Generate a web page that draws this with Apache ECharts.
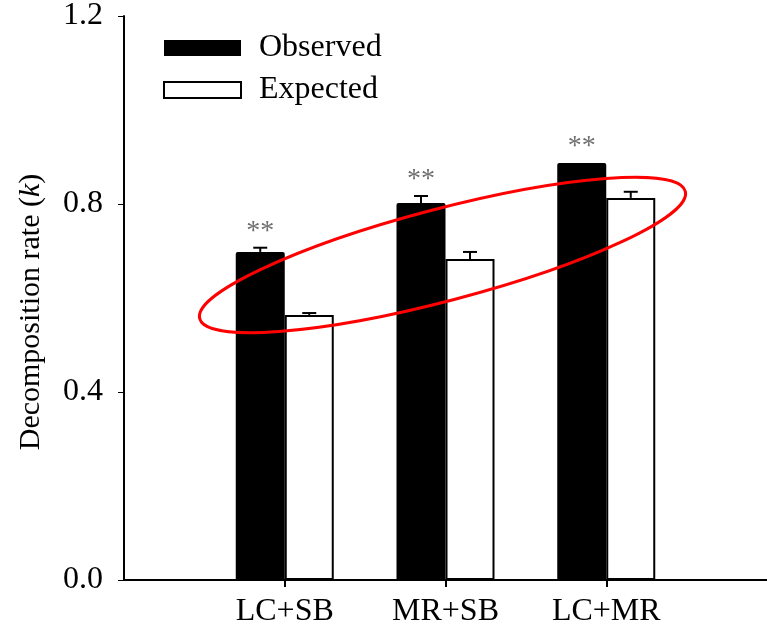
<!DOCTYPE html>
<html>
<head>
<meta charset="utf-8">
<script src="https://cdn.jsdelivr.net/npm/echarts@6/dist/echarts.min.js"></script>
<style>
html,body{margin:0;padding:0;background:#fff;}
#chart{width:767px;height:637px;}
</style>
</head>
<body>
<div id="chart"></div>
<script>
const categories = ['LC+SB', 'MR+SB', 'LC+MR'];
const categoryPositions = [1, 2, 3];
const observed = [0.698, 0.802, 0.887];
const observedErr = [0.009, 0.015, 0.0];
const expected = [0.564, 0.683, 0.813];
const expectedErr = [0.004, 0.015, 0.013];
const significance = ['**', '**', '**'];
const yTicks = [0, 0.4, 0.8, 1.2];

const FONT = '"Liberation Serif", "Times New Roman", serif';
const BAR_W = 49;

const chart = echarts.init(document.getElementById('chart'));

function errSeries(name, vals, errs, shift, marks) {
  return {
    type: 'custom',
    name: name,
    z: 5,
    silent: true,
    data: categoryPositions.map((p, i) => [p, vals[i], errs[i], i]),
    renderItem: function (params, api) {
      const x = api.value(0), v = api.value(1), e = api.value(2), i = api.value(3);
      const base = api.coord([x, v]);
      const top = api.coord([x, v + e]);
      const cx = base[0] + shift;
      const children = [];
      if (e > 0) {
        children.push({type: 'line', shape: {x1: cx, y1: base[1], x2: cx, y2: top[1]}, style: {stroke: '#000', lineWidth: 2}});
        children.push({type: 'line', shape: {x1: cx - 7, y1: top[1], x2: cx + 7, y2: top[1]}, style: {stroke: '#000', lineWidth: 2}});
      }
      if (marks) {
        children.push({type: 'text', x: cx, y: top[1] - 16, style: {text: marks[i], fill: '#6e6e6e', font: '28px ' + FONT, align: 'center', verticalAlign: 'middle'}});
      }
      return {type: 'group', children: children};
    }
  };
}

chart.setOption({
  animation: false,
  backgroundColor: '#fff',
  grid: {left: 124, top: 16, width: 648, height: 564, containLabel: false},
  legend: {
    orient: 'vertical',
    left: 163, top: 32, padding: 0,
    itemWidth: 77, itemHeight: 16,
    itemGap: 10,
    icon: 'rect',
    textStyle: {fontFamily: FONT, fontSize: 32, lineHeight: 32, color: '#000', padding: [0, 0, 0, 13]},
    data: ['Observed', 'Expected']
  },
  xAxis: {
    type: 'value', min: 0, max: 4,
    splitLine: {show: false},
    axisLine: {show: true, lineStyle: {color: '#000', width: 2}},
    axisTick: {show: true, customValues: categoryPositions, length: 7, lineStyle: {color: '#000', width: 2}},
    axisLabel: {customValues: categoryPositions, formatter: v => categories[Math.round(v) - 1] || '', fontFamily: FONT, fontSize: 32, color: '#000', margin: 16}
  },
  yAxis: {
    type: 'value', min: 0, max: 1.2, interval: 0.4,
    name: 'Decomposition rate ({i|k})',
    nameLocation: 'middle', nameGap: 78,
    nameTextStyle: {fontFamily: FONT, fontSize: 30, color: '#000', padding: [0, 28, 0, 0], rich: {i: {fontFamily: FONT, fontSize: 30, fontStyle: 'italic', color: '#000'}}},
    splitLine: {show: false},
    axisLine: {show: true, lineStyle: {color: '#000', width: 2}},
    axisTick: {show: true, length: 6, lineStyle: {color: '#000', width: 1}},
    axisLabel: {fontFamily: FONT, fontSize: 32, color: '#000', margin: 21, formatter: v => v.toFixed(1)}
  },
  graphic: [{
    type: 'ellipse',
    shape: {cx: 0, cy: 0, rx: 251, ry: 46},
    x: 442.5, y: 255,
    rotation: 14.7 * Math.PI / 180,
    style: {fill: 'none', stroke: '#ff0000', lineWidth: 3},
    z: 100
  }],
  series: [
    {
      name: 'Observed', type: 'bar', barWidth: BAR_W, barGap: '0%',
      data: categoryPositions.map((p, i) => [p, observed[i]]),
      itemStyle: {color: '#000', borderColor: '#000', borderWidth: 0, borderRadius: [2, 2, 0, 0]}
    },
    {
      name: 'Expected', type: 'bar', barWidth: BAR_W, barGap: '0%',
      data: categoryPositions.map((p, i) => [p, expected[i]]),
      itemStyle: {color: '#fff', borderColor: '#000', borderWidth: 2}
    },
    errSeries('obsErr', observed, observedErr, -BAR_W / 2, significance),
    errSeries('expErr', expected, expectedErr, BAR_W / 2, null)
  ]
});
</script>
</body>
</html>
